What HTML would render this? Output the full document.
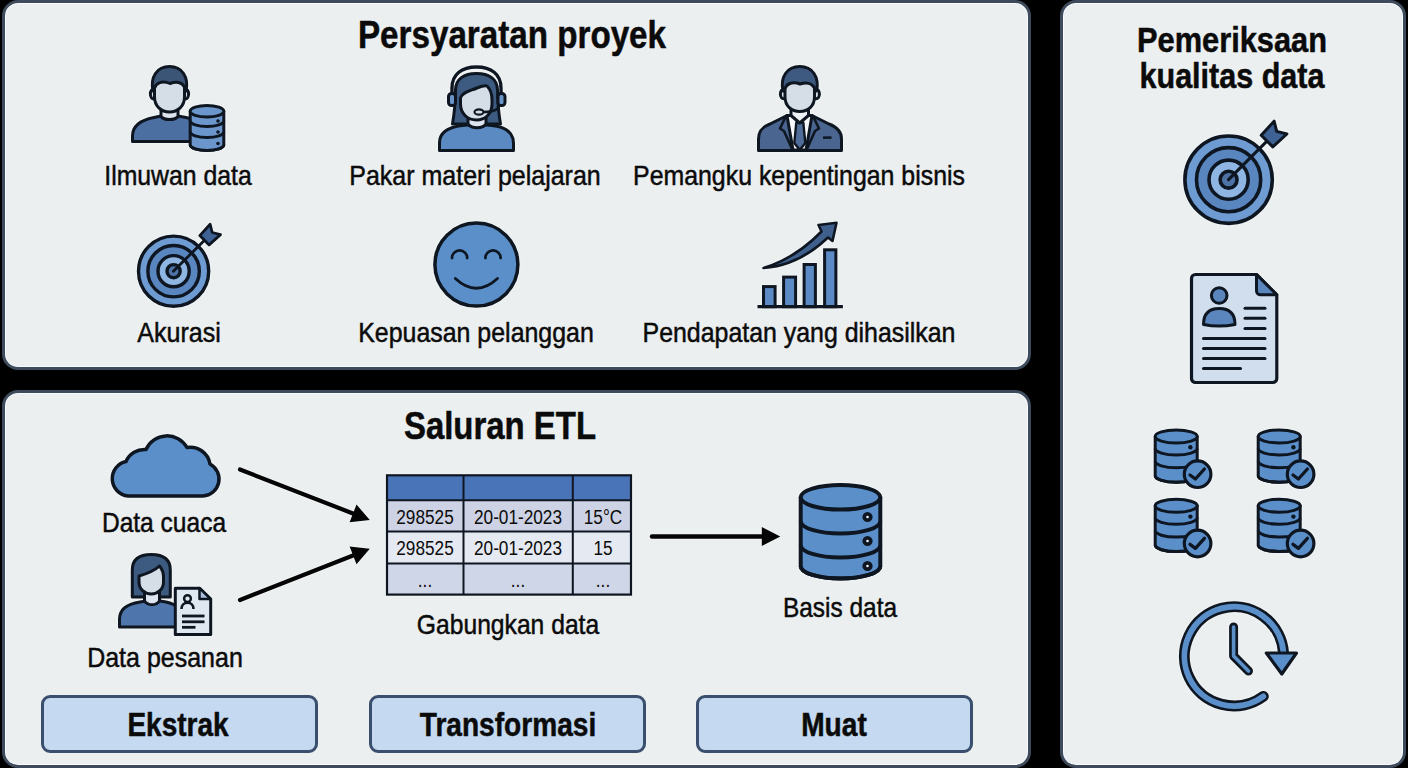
<!DOCTYPE html>
<html><head><meta charset="utf-8">
<style>
html,body{margin:0;padding:0;background:#000;}
body{width:1408px;height:768px;position:relative;overflow:hidden;font-family:"Liberation Sans",sans-serif;color:#0b0b0b;}
.p{position:absolute;box-sizing:border-box;background:#ebeff0;border:3px solid #3e4b5c;border-radius:16px;box-shadow:inset 0 0 0 1px #f7faff;}
.t{position:absolute;white-space:nowrap;line-height:1;-webkit-text-stroke:0.5px #0b0b0b;}
.b{font-weight:bold;}
.btn{position:absolute;box-sizing:border-box;background:#c5daf0;border:3px solid #3a4f6d;border-radius:9px;}
svg{position:absolute;left:0;top:0;filter:drop-shadow(0 0 1px rgba(255,255,255,0.85));}
</style></head><body>
<div class="p" style="left:2px;top:0px;width:1029px;height:370px;"></div>
<div class="p" style="left:2px;top:390px;width:1029px;height:378px;"></div>
<div class="p" style="left:1060px;top:0px;width:346px;height:768px;"></div>
<div class="btn" style="left:41px;top:695px;width:277px;height:58px;"></div>
<div class="btn" style="left:369px;top:695px;width:277px;height:58px;"></div>
<div class="btn" style="left:696px;top:695px;width:277px;height:58px;"></div>
<svg width="1408" height="768" viewBox="0 0 1408 768">

<g stroke="#0e1621" stroke-width="3" stroke-linejoin="round">
<path d="M132.5,141.5 L132.5,136 C132.5,125 141,120 154,117.5 L161,116 L178,116 L186,117.5 C199,120 206,125 206,136 L206,141.5 Z" fill="#4c6fa2"/>
<path d="M161,106 L161,116.5 C164,120.5 175,120.5 178,116.5 L178,106 Z" fill="#dfe5ee"/>
<ellipse cx="153.8" cy="94" rx="3.4" ry="5" fill="#d5dde7"/>
<ellipse cx="185.2" cy="94" rx="3.4" ry="5" fill="#d5dde7"/>
<path d="M153,91 C150,77 157,66.5 169.5,66.5 C182,66.5 189,77 186,91 Z" fill="#3b5577"/>
<path d="M154.5,88 C156,83 162,80 170,83.5 C176,81 182,82 184.5,87 L184.5,97 C184.5,106 178,112 169.5,112 C161,112 154.5,106 154.5,97 Z" fill="#d5dde7"/>
</g>

<path d="M190.2,111.3 L190.2,144.7 A16.8,5.8 0 0 0 223.8,144.7 L223.8,111.3 Z" fill="#6b96cb" stroke="#0e1621" stroke-width="3" stroke-linejoin="round"/>
<ellipse cx="207" cy="111.3" rx="16.8" ry="5.8" fill="#6b96cb" stroke="#0e1621" stroke-width="3"/>
<path d="M190.2,120.7 A16.8,5.8 0 0 0 223.8,120.7" fill="none" stroke="#0e1621" stroke-width="3"/>
<path d="M190.2,131.7 A16.8,5.8 0 0 0 223.8,131.7" fill="none" stroke="#0e1621" stroke-width="3"/>
<path d="M190.2,144.7 A16.8,5.8 0 0 0 223.8,144.7" fill="none" stroke="#0e1621" stroke-width="3"/>
<circle cx="218" cy="121" r="1.8" fill="#0e1621"/>
<circle cx="218" cy="132" r="1.8" fill="#0e1621"/>
<circle cx="218" cy="143.5" r="1.8" fill="#0e1621"/>
<circle cx="173.6" cy="271.2" r="35.099999999999994" fill="#6e9bd1" stroke="#0e1621" stroke-width="3.4"/>
<circle cx="173.6" cy="271.2" r="25.715999999999998" fill="#5a86bf" stroke="#0e1621" stroke-width="3.4"/>
<circle cx="173.6" cy="271.2" r="15.596" fill="#8fb6e2" stroke="#0e1621" stroke-width="3.4"/>
<circle cx="173.6" cy="271.2" r="6.579999999999999" fill="#4d73a6" stroke="#0e1621" stroke-width="3.4"/>
<line x1="173.4" y1="271.3" x2="207.0" y2="237.7" stroke="#0e1621" stroke-width="2.8" stroke-linecap="round"/><polygon points="199.8,235.6 210.1,224.2 212.2,232.5 220.5,234.6 209.1,244.9" fill="#3f6294" stroke="#0e1621" stroke-width="2.8" stroke-linejoin="round"/>
<circle cx="1228.6" cy="179.7" r="43.7" fill="#6e9bd1" stroke="#0e1621" stroke-width="3.6"/>
<circle cx="1228.6" cy="179.7" r="32.097500000000004" fill="#5a86bf" stroke="#0e1621" stroke-width="3.6"/>
<circle cx="1228.6" cy="179.7" r="19.584999999999997" fill="#8fb6e2" stroke="#0e1621" stroke-width="3.6"/>
<circle cx="1228.6" cy="179.7" r="8.4375" fill="#4d73a6" stroke="#0e1621" stroke-width="3.6"/>
<line x1="1228.5" y1="179.6" x2="1270.2" y2="137.9" stroke="#0e1621" stroke-width="3" stroke-linecap="round"/><polygon points="1261.2,135.3 1274.1,121.2 1276.7,131.4 1286.9,134.0 1272.8,146.9" fill="#3f6294" stroke="#0e1621" stroke-width="3" stroke-linejoin="round"/>
<path d="M800.7,497.3 L800.7,566.2 A39.8,12.3 0 0 0 880.3,566.2 L880.3,497.3 Z" fill="#5b8fca" stroke="#0e1621" stroke-width="4" stroke-linejoin="round"/>
<ellipse cx="840.5" cy="497.3" rx="39.8" ry="12.3" fill="#5b8fca" stroke="#0e1621" stroke-width="4"/>
<path d="M800.7,521.2 A39.8,12.3 0 0 0 880.3,521.2" fill="none" stroke="#0e1621" stroke-width="4"/>
<path d="M800.7,545.2 A39.8,12.3 0 0 0 880.3,545.2" fill="none" stroke="#0e1621" stroke-width="4"/>
<path d="M800.7,566.2 A39.8,12.3 0 0 0 880.3,566.2" fill="none" stroke="#0e1621" stroke-width="4"/>
<circle cx="867.5" cy="517" r="3.2" fill="#f4f6f8" stroke="#0e1621" stroke-width="3.84"/>
<circle cx="867.5" cy="541" r="3.2" fill="#f4f6f8" stroke="#0e1621" stroke-width="3.84"/>
<circle cx="867.5" cy="566" r="3.2" fill="#f4f6f8" stroke="#0e1621" stroke-width="3.84"/>

<g stroke="#0e1621" stroke-width="3" stroke-linejoin="round">
<path d="M439.5,150.5 L439.5,143 C439.5,132 449,127 462,125.5 L468,125 L486,125 L492,125.5 C505,127 513.5,132 513.5,143 L513.5,150.5 Z" fill="#5b89c1"/>
<path d="M452.5,124 C454.5,112 455.5,100 455.5,90 C455.5,79 464,73.5 476.5,73.5 C489,73.5 497.5,79 497.5,90 C497.5,100 498.5,112 500.5,124 Z" fill="#3d5a80"/>
<path d="M468,114 L468,124 C472,129 482,129 486,124 L486,114 Z" fill="#dfe5ee"/>
<path d="M460.5,98 C462,92 470,91 477,88 C482,86 485,85 487,86 C490,89 492,94 492,100 L492,104 C492,114 485,120 476.5,120 C468,120 460.5,114 460.5,104 Z" fill="#d5dde7"/>
</g>
<path d="M452,95 L452,88 C452,74 462,67 476.5,67 C491,67 501,74 501,88 L501,95" fill="none" stroke="#0e1621" stroke-width="3.4"/>
<rect x="448.5" y="93.5" width="7" height="12" rx="3" fill="#6a95c9" stroke="#0e1621" stroke-width="3"/>
<rect x="498" y="93.5" width="7" height="12" rx="3" fill="#6a95c9" stroke="#0e1621" stroke-width="3"/>
<path d="M500,104 C499,110 492,112 484,112" fill="none" stroke="#0e1621" stroke-width="2.5"/>
<ellipse cx="479" cy="112" rx="4.5" ry="2.6" fill="#d5dde7" stroke="#0e1621" stroke-width="2.2"/>


<g stroke="#0e1621" stroke-width="3" stroke-linejoin="round">
<path d="M758.5,150.5 L758.5,139 C758.5,131 762,127 770,124 L787,115.5 L812,115.5 L829,124 C837,127 841.5,131 841.5,139 L841.5,150.5 Z" fill="#4a6690"/>
<path d="M787,115.5 L812,115.5 L806,150 L793,150 Z" fill="#f7f8fa"/>
<path d="M786,116 L780,128.5 L784,131 L792.5,150" fill="none" stroke-width="2.6"/>
<path d="M813,116 L819,128.5 L815,131 L806.5,150" fill="none" stroke-width="2.6"/>
<path d="M796.3,122.5 L803.3,122.5 L805.3,143 L799.8,150 L794.3,143 Z" fill="#4f6d98" stroke-width="2.4"/>
<path d="M791,106 L791,115.5 L799.7,123 L808.5,115.5 L808.5,106 Z" fill="#eef1f5"/>
<ellipse cx="783.6" cy="94" rx="3.2" ry="4.8" fill="#d5dde7"/>
<ellipse cx="816.2" cy="94" rx="3.2" ry="4.8" fill="#d5dde7"/>
<path d="M783,91 C780,77 787,66.5 799.8,66.5 C812.5,66.5 819.5,77 816.6,91 Z" fill="#3f5a80"/>
<path d="M785,89 C786,84 792,81 800,84 C806,82 812,83 814.5,88 L814.5,97 C814.5,106 808,111.5 799.8,111.5 C791.5,111.5 785,106 785,97 Z" fill="#d5dde7"/>
</g>
<line x1="823" y1="137.6" x2="831.5" y2="137.6" stroke="#0e1621" stroke-width="2.5"/>


<circle cx="476.4" cy="264.6" r="41.5" fill="#5b8fca" stroke="#0e1621" stroke-width="3.5"/>
<path d="M452,258 A7.6,7.6 0 0 1 467.2,258" fill="none" stroke="#0e1621" stroke-width="2.8" stroke-linecap="round"/>
<path d="M485.4,258 A7.6,7.6 0 0 1 500.6,258" fill="none" stroke="#0e1621" stroke-width="2.8" stroke-linecap="round"/>
<path d="M455.3,278.5 Q476.4,298 497.5,278.5" fill="none" stroke="#0e1621" stroke-width="2.8" stroke-linecap="round"/>

<rect x="763.5" y="286.6" width="11.600000000000023" height="20.099999999999966" fill="#5b8ac4" stroke="#0e1621" stroke-width="3"/>
<rect x="783.6" y="277.1" width="12.0" height="29.599999999999966" fill="#5b8ac4" stroke="#0e1621" stroke-width="3"/>
<rect x="804.1" y="264.5" width="11.299999999999955" height="42.19999999999999" fill="#5b8ac4" stroke="#0e1621" stroke-width="3"/>
<rect x="824.6" y="249.8" width="11.299999999999955" height="56.89999999999998" fill="#5b8ac4" stroke="#0e1621" stroke-width="3"/>
<line x1="757.5" y1="306.7" x2="842.9" y2="306.7" stroke="#0e1621" stroke-width="3.2"/>
<path d="M763.5,268 C785,261.5 804,249.5 821.5,231.5 L818.5,225 L836.5,222.8 L832.5,241 L828,237.5 C808,256.5 786,266.5 763.5,268 Z" fill="#3f5f8d" stroke="#0e1621" stroke-width="2.6" stroke-linejoin="round"/>
<path d="M128,496 A17.5,17.5 0 0 1 126,461.5 A20,20 0 0 1 146,449.5 A23,23 0 0 1 187,447.5 A20,20 0 0 1 210,464 A17,17 0 0 1 203,496 Z" fill="#5b8fca" stroke="#0e1621" stroke-width="3.5" stroke-linejoin="round"/>

<g stroke="#0e1621" stroke-width="3" stroke-linejoin="round">
<path d="M119.5,627 L119.5,619 C119.5,609 127,604 140,602 L146,601 L160,601 L166,602 C176,604 182,609 182,619 L182,627 Z" fill="#4e76ad"/>
<path d="M132.3,597 L132.3,570 C132.3,559 140,554.5 151.3,554.5 C162.5,554.5 170.3,559 170.3,570 L170.3,597 Z" fill="#3d5a80"/>
<path d="M144.5,590 L144.5,601 C148,606 156,606 159.5,601 L159.5,590 Z" fill="#dfe5ee"/>
<path d="M139,576 C146,574 153,572 159.5,566 C162,569 163.5,573 163.5,577 L163.5,582 C163.5,589 158,594 151.3,594 C144.5,594 139,589 139,582 Z" fill="#d5dde7"/>
<path d="M175.3,588.2 L199.5,588.2 L210.7,599 L210.7,634.6 L175.3,634.6 Z" fill="#dfe7f1"/>
<path d="M199.5,588.2 L199.5,599 L210.7,599 Z" fill="#a9bfdc" stroke-width="2.5"/>
</g>
<circle cx="187.5" cy="598.6" r="3.4" fill="none" stroke="#0e1621" stroke-width="2.4"/>
<path d="M181.5,609 C181.5,605 184,602.8 187.5,602.8 C191,602.8 193.5,605 193.5,609" fill="none" stroke="#0e1621" stroke-width="2.6"/>
<line x1="182" y1="616" x2="204.5" y2="616" stroke="#0e1621" stroke-width="2.8"/>
<line x1="182" y1="621.8" x2="204.5" y2="621.8" stroke="#0e1621" stroke-width="2.8"/>
<line x1="182" y1="627.3" x2="195.5" y2="627.3" stroke="#0e1621" stroke-width="2.8"/>

<line x1="240" y1="469.5" x2="354.9" y2="514.2" stroke="#050505" stroke-width="4.2" stroke-linecap="round"/><polygon points="369.8,520 349.6,522.3 356.5,504.6" fill="#050505"/>
<line x1="240" y1="600" x2="354.9" y2="554.7" stroke="#050505" stroke-width="4.2" stroke-linecap="round"/><polygon points="369.8,548.8 356.5,564.2 349.6,546.6" fill="#050505"/>
<line x1="652" y1="536.5" x2="763.8" y2="536.5" stroke="#050505" stroke-width="4.4" stroke-linecap="round"/><polygon points="780.3,536.5 761.8,546.0 761.8,527.0" fill="#050505"/>
<rect x="387" y="475.3" width="244" height="24.899999999999977" fill="#4a74b8"/>
<rect x="387" y="500.2" width="244" height="31.400000000000034" fill="#cdd3e4"/>
<rect x="387" y="531.6" width="244" height="31.799999999999955" fill="#e5e9f1"/>
<rect x="387" y="563.4" width="244" height="31.200000000000045" fill="#cfd6e7"/>
<rect x="387" y="475.3" width="244" height="119.30000000000001" fill="none" stroke="#0e1621" stroke-width="2.2"/>
<line x1="387" y1="500.2" x2="631" y2="500.2" stroke="#0e1621" stroke-width="2"/>
<line x1="387" y1="531.6" x2="631" y2="531.6" stroke="#0e1621" stroke-width="2"/>
<line x1="387" y1="563.4" x2="631" y2="563.4" stroke="#0e1621" stroke-width="2"/>
<line x1="463.5" y1="475.3" x2="463.5" y2="594.6" stroke="#0e1621" stroke-width="2"/>
<line x1="572.8" y1="475.3" x2="572.8" y2="594.6" stroke="#0e1621" stroke-width="2"/>

<path d="M1195.5,274.5 L1256.5,274.5 L1276.8,294.8 L1276.8,378.5 A4,4 0 0 1 1272.8,382.5 L1195.5,382.5 A4,4 0 0 1 1191.5,378.5 L1191.5,278.5 A4,4 0 0 1 1195.5,274.5 Z" fill="#d0deee" stroke="#0e1621" stroke-width="3.2" stroke-linejoin="round"/>
<path d="M1256.5,274.5 L1256.5,290.8 A4,4 0 0 0 1260.5,294.8 L1276.8,294.8 Z" fill="#5a86bd" stroke="#0e1621" stroke-width="3" stroke-linejoin="round"/>
<circle cx="1219.2" cy="295.5" r="7.8" fill="#5a86bd" stroke="#0e1621" stroke-width="3"/>
<path d="M1203.5,324.5 C1203.5,313 1210,308.5 1219.2,308.5 C1228.5,308.5 1235,313 1235,324.5 C1225,326.5 1213,326.5 1203.5,324.5 Z" fill="#5a86bd" stroke="#0e1621" stroke-width="3" stroke-linejoin="round"/>

<line x1="1245" y1="308.3" x2="1265" y2="308.3" stroke="#0e1621" stroke-width="3" stroke-linecap="round"/>
<line x1="1245" y1="318.3" x2="1265" y2="318.3" stroke="#0e1621" stroke-width="3" stroke-linecap="round"/>
<line x1="1245" y1="328.4" x2="1265" y2="328.4" stroke="#0e1621" stroke-width="3" stroke-linecap="round"/>
<line x1="1203.5" y1="338.4" x2="1265" y2="338.4" stroke="#0e1621" stroke-width="3" stroke-linecap="round"/>
<line x1="1203.5" y1="348.4" x2="1265" y2="348.4" stroke="#0e1621" stroke-width="3" stroke-linecap="round"/>
<line x1="1203.5" y1="358.4" x2="1265" y2="358.4" stroke="#0e1621" stroke-width="3" stroke-linecap="round"/>
<line x1="1203.5" y1="368.5" x2="1240.5" y2="368.5" stroke="#0e1621" stroke-width="3" stroke-linecap="round"/>
<path d="M1155.2,436.5 L1155.2,475.8 A21,6.5 0 0 0 1197.2,475.8 L1197.2,436.5 Z" fill="#5b8fca" stroke="#0e1621" stroke-width="3" stroke-linejoin="round"/>
<ellipse cx="1176.2" cy="436.5" rx="21" ry="6.5" fill="#5b8fca" stroke="#0e1621" stroke-width="3"/>
<path d="M1155.2,448.5 A21,6.5 0 0 0 1197.2,448.5" fill="none" stroke="#0e1621" stroke-width="3"/>
<path d="M1155.2,461.3 A21,6.5 0 0 0 1197.2,461.3" fill="none" stroke="#0e1621" stroke-width="3"/>
<path d="M1155.2,475.8 A21,6.5 0 0 0 1197.2,475.8" fill="none" stroke="#0e1621" stroke-width="3"/>
<circle cx="1190.4" cy="447.3" r="2.2" fill="#0e1621"/>
<circle cx="1197.6" cy="474.2" r="13.3" fill="#5b8fca" stroke="#0e1621" stroke-width="3.2"/>
<path d="M1190.0,475.0 L1195.3999999999999,479.0 L1204.3999999999999,469.0" fill="none" stroke="#0e1621" stroke-width="3.3" stroke-linecap="round" stroke-linejoin="round"/>
<path d="M1155.2,505.8 L1155.2,545.1 A21,6.5 0 0 0 1197.2,545.1 L1197.2,505.8 Z" fill="#5b8fca" stroke="#0e1621" stroke-width="3" stroke-linejoin="round"/>
<ellipse cx="1176.2" cy="505.8" rx="21" ry="6.5" fill="#5b8fca" stroke="#0e1621" stroke-width="3"/>
<path d="M1155.2,517.8 A21,6.5 0 0 0 1197.2,517.8" fill="none" stroke="#0e1621" stroke-width="3"/>
<path d="M1155.2,530.6 A21,6.5 0 0 0 1197.2,530.6" fill="none" stroke="#0e1621" stroke-width="3"/>
<path d="M1155.2,545.1 A21,6.5 0 0 0 1197.2,545.1" fill="none" stroke="#0e1621" stroke-width="3"/>
<circle cx="1190.4" cy="516.6" r="2.2" fill="#0e1621"/>
<circle cx="1197.6" cy="543.5" r="13.3" fill="#5b8fca" stroke="#0e1621" stroke-width="3.2"/>
<path d="M1190.0,544.3 L1195.3999999999999,548.3 L1204.3999999999999,538.3" fill="none" stroke="#0e1621" stroke-width="3.3" stroke-linecap="round" stroke-linejoin="round"/>
<path d="M1258.2,436.5 L1258.2,475.8 A21,6.5 0 0 0 1300.2,475.8 L1300.2,436.5 Z" fill="#5b8fca" stroke="#0e1621" stroke-width="3" stroke-linejoin="round"/>
<ellipse cx="1279.2" cy="436.5" rx="21" ry="6.5" fill="#5b8fca" stroke="#0e1621" stroke-width="3"/>
<path d="M1258.2,448.5 A21,6.5 0 0 0 1300.2,448.5" fill="none" stroke="#0e1621" stroke-width="3"/>
<path d="M1258.2,461.3 A21,6.5 0 0 0 1300.2,461.3" fill="none" stroke="#0e1621" stroke-width="3"/>
<path d="M1258.2,475.8 A21,6.5 0 0 0 1300.2,475.8" fill="none" stroke="#0e1621" stroke-width="3"/>
<circle cx="1293.4" cy="447.3" r="2.2" fill="#0e1621"/>
<circle cx="1300.6" cy="474.2" r="13.3" fill="#5b8fca" stroke="#0e1621" stroke-width="3.2"/>
<path d="M1293.0,475.0 L1298.3999999999999,479.0 L1307.3999999999999,469.0" fill="none" stroke="#0e1621" stroke-width="3.3" stroke-linecap="round" stroke-linejoin="round"/>
<path d="M1258.2,505.8 L1258.2,545.1 A21,6.5 0 0 0 1300.2,545.1 L1300.2,505.8 Z" fill="#5b8fca" stroke="#0e1621" stroke-width="3" stroke-linejoin="round"/>
<ellipse cx="1279.2" cy="505.8" rx="21" ry="6.5" fill="#5b8fca" stroke="#0e1621" stroke-width="3"/>
<path d="M1258.2,517.8 A21,6.5 0 0 0 1300.2,517.8" fill="none" stroke="#0e1621" stroke-width="3"/>
<path d="M1258.2,530.6 A21,6.5 0 0 0 1300.2,530.6" fill="none" stroke="#0e1621" stroke-width="3"/>
<path d="M1258.2,545.1 A21,6.5 0 0 0 1300.2,545.1" fill="none" stroke="#0e1621" stroke-width="3"/>
<circle cx="1293.4" cy="516.6" r="2.2" fill="#0e1621"/>
<circle cx="1300.6" cy="543.5" r="13.3" fill="#5b8fca" stroke="#0e1621" stroke-width="3.2"/>
<path d="M1293.0,544.3 L1298.3999999999999,548.3 L1307.3999999999999,538.3" fill="none" stroke="#0e1621" stroke-width="3.3" stroke-linecap="round" stroke-linejoin="round"/>
<path d="M1263.3,696.4 A49.6,49.6 0 1 1 1283.5,652.9" fill="none" stroke="#0e1621" stroke-width="11" stroke-linecap="round"/>
<path d="M1263.3,696.4 A49.6,49.6 0 1 1 1283.5,652.9" fill="none" stroke="#5b8fca" stroke-width="5.8" stroke-linecap="round"/>
<polygon points="1266.3,653 1296.5,653 1281.8,674" fill="#5b8fca" stroke="#0e1621" stroke-width="3.2" stroke-linejoin="round"/>
<path d="M1233.6,627 L1233.6,656 L1248.5,671" fill="none" stroke="#0e1621" stroke-width="9" stroke-linecap="round" stroke-linejoin="round"/>
<path d="M1233.6,627 L1233.6,656 L1248.5,671" fill="none" stroke="#5b8fca" stroke-width="3.6" stroke-linecap="round" stroke-linejoin="round"/>
</svg>
<div class="t" style="left:177.7px;top:161.4px;font-size:28.5px;transform:translateX(-50%) scaleX(0.8702);">Ilmuwan data</div>
<div class="t" style="left:475.3px;top:161.4px;font-size:28.5px;transform:translateX(-50%) scaleX(0.8771);">Pakar materi pelajaran</div>
<div class="t" style="left:799.25px;top:161.2px;font-size:28.5px;transform:translateX(-50%) scaleX(0.8728);">Pemangku kepentingan bisnis</div>
<div class="t" style="left:178.7px;top:317.9px;font-size:28.5px;transform:translateX(-50%) scaleX(0.8797);">Akurasi</div>
<div class="t" style="left:476px;top:317.9px;font-size:28.5px;transform:translateX(-50%) scaleX(0.8745);">Kepuasan pelanggan</div>
<div class="t" style="left:799px;top:317.9px;font-size:28.5px;transform:translateX(-50%) scaleX(0.8737);">Pendapatan yang dihasilkan</div>
<div class="t b" style="left:512px;top:15.8px;font-size:38px;transform:translateX(-50%) scaleX(0.8732);">Persyaratan proyek</div>
<div class="t b" style="left:499.5px;top:407.0px;font-size:38px;transform:translateX(-50%) scaleX(0.8663);">Saluran ETL</div>
<div class="t" style="left:163.5px;top:507.5px;font-size:28.5px;transform:translateX(-50%) scaleX(0.8615);">Data cuaca</div>
<div class="t" style="left:165.3px;top:642.5px;font-size:28.5px;transform:translateX(-50%) scaleX(0.8771);">Data pesanan</div>
<div class="t" style="left:507.70000000000005px;top:609.5px;font-size:28.5px;transform:translateX(-50%) scaleX(0.8650);">Gabungkan data</div>
<div class="t" style="left:839.8px;top:593.4px;font-size:28.5px;transform:translateX(-50%) scaleX(0.8572);">Basis data</div>
<div class="t b" style="left:178.2px;top:708.8px;font-size:32.5px;transform:translateX(-50%) scaleX(0.8615);">Ekstrak</div>
<div class="t b" style="left:507.85px;top:708.8px;font-size:32.5px;transform:translateX(-50%) scaleX(0.8641);">Transformasi</div>
<div class="t b" style="left:833.5px;top:708.8px;font-size:32.5px;transform:translateX(-50%) scaleX(0.8649);">Muat</div>
<div class="t b" style="left:1232.35px;top:22.5px;font-size:34.5px;transform:translateX(-50%) scaleX(0.8921);">Pemeriksaan</div>
<div class="t b" style="left:1232.1px;top:59.0px;font-size:34.5px;transform:translateX(-50%) scaleX(0.8850);">kualitas data</div>
<div class="t" style="left:424.6px;top:506.7px;font-size:20px;transform:translateX(-50%) scaleX(0.8600);-webkit-text-stroke:0;">298525</div>
<div class="t" style="left:518px;top:506.7px;font-size:20px;transform:translateX(-50%) scaleX(0.8600);-webkit-text-stroke:0;">20-01-2023</div>
<div class="t" style="left:602.6px;top:506.7px;font-size:20px;transform:translateX(-50%) scaleX(0.8600);-webkit-text-stroke:0;">15°C</div>
<div class="t" style="left:424.6px;top:538.1px;font-size:20px;transform:translateX(-50%) scaleX(0.8600);-webkit-text-stroke:0;">298525</div>
<div class="t" style="left:518px;top:538.1px;font-size:20px;transform:translateX(-50%) scaleX(0.8600);-webkit-text-stroke:0;">20-01-2023</div>
<div class="t" style="left:602.6px;top:538.1px;font-size:20px;transform:translateX(-50%) scaleX(0.8600);-webkit-text-stroke:0;">15</div>
<div class="t" style="left:424.6px;top:570.1px;font-size:20px;transform:translateX(-50%) scaleX(0.8600);-webkit-text-stroke:0;">...</div>
<div class="t" style="left:518px;top:570.1px;font-size:20px;transform:translateX(-50%) scaleX(0.8600);-webkit-text-stroke:0;">...</div>
<div class="t" style="left:602.6px;top:570.1px;font-size:20px;transform:translateX(-50%) scaleX(0.8600);-webkit-text-stroke:0;">...</div>
</body></html>
